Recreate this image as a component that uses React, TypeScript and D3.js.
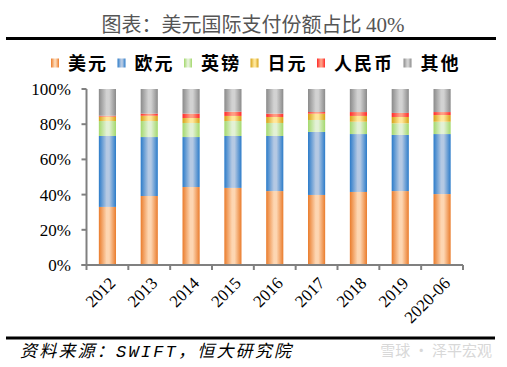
import React from 'react';
import * as d3 from 'd3';

// categories / series (in %)
const years = ['2012', '2013', '2014', '2015', '2016', '2017', '2018', '2019', '2020-06'];
const seriesNames = ['美元', '欧元', '英镑', '日元', '人民币', '其他'];
const usd = [33.0, 39.2, 44.3, 43.8, 42.0, 39.8, 41.5, 42.0, 40.3];
const eur = [40.3, 33.5, 28.4, 29.5, 31.3, 35.8, 32.9, 31.9, 34.1];
const gbp = [8.5, 9.1, 8.0, 8.5, 7.4, 6.8, 7.0, 6.6, 7.0];
const jpy = [2.5, 3.0, 2.8, 2.9, 3.4, 3.6, 3.3, 3.6, 3.8];
const cny = [0.5, 1.2, 2.5, 2.4, 1.9, 0.9, 2.2, 2.3, 1.7];
const yTicks = [0, 20, 40, 60, 80, 100];

// edge colour / centre colour of each series' gradient
const edgeColors = ['#EA7C2C', '#2B7BC9', '#A3D86C', '#D6A216', '#FF2A2A', '#8A8A8A'];
const midColors = ['#FDD6B2', '#B5C9E3', '#E3F1D6', '#FFE79A', '#FF9C82', '#D2D2D2'];

const W = 507, H = 367;
const margin = { top: 89, right: 44, bottom: 102, left: 86.5 };

export default function App() {
  const other = years.map((_, i) => 100 - usd[i] - eur[i] - gbp[i] - jpy[i] - cny[i]);
  const table = years.map((y, i) => ({
    year: y,
    '美元': usd[i], '欧元': eur[i], '英镑': gbp[i], '日元': jpy[i], '人民币': cny[i], '其他': other[i],
  }));
  const stacked = d3.stack<any>().keys(seriesNames)(table);

  const x = d3.scaleBand()
    .domain(years)
    .range([margin.left, W - margin.right])
    .paddingInner(0.59)
    .paddingOuter(0.295);
  const y = d3.scaleLinear().domain([0, 100]).range([H - margin.bottom, margin.top]);

  const step = x.step();
  const x0 = margin.left;
  const x1 = W - margin.right;
  const y0 = y(0);

  // legend layout
  let lx = 51;
  const legend = seriesNames.map((name, i) => {
    const item = { name, i, x: lx };
    lx += 17 + name.length * 20 + 9.5;
    return item;
  });

  const cjk = '"Noto Sans CJK SC", sans-serif';
  const serif = '"Liberation Serif", "Times New Roman", serif';

  return (
    <svg width={W} height={H} style={{ position: 'absolute', left: 0, top: 0, background: '#fff' }}>
      <defs>
        {seriesNames.map((_, i) => (
          <linearGradient key={i} id={'g' + i} x1="0" x2="1" y1="0" y2="0">
            <stop offset="0%" stopColor={edgeColors[i]} />
            <stop offset="45%" stopColor={midColors[i]} />
            <stop offset="60%" stopColor={midColors[i]} />
            <stop offset="100%" stopColor={edgeColors[i]} />
          </linearGradient>
        ))}
      </defs>

      {/* title */}
      <text x={253} y={32} textAnchor="middle" fontFamily={cjk} fontSize={20} fill="#555">
        图表：美元国际支付份额占比 <tspan fontFamily={serif} fontSize={21}>40%</tspan>
      </text>
      <line x1={6} x2={496} y1={38.5} y2={38.5} stroke="#000" strokeWidth={3} />

      {/* legend */}
      {legend.map(d => (
        <g key={d.name}>
          <rect x={d.x} y={58.5} width={8} height={9} fill={'url(#g' + d.i + ')'} />
          <text x={d.x + 17} y={70} fontFamily={cjk} fontWeight="bold" fontSize={18} letterSpacing={2} fill="#000">
            {d.name}
          </text>
        </g>
      ))}

      {/* bars */}
      {stacked.map((layer, i) => (
        <g key={layer.key} fill={'url(#g' + i + ')'}>
          {layer.map((d: any) => (
            <rect key={d.data.year}
              x={x(d.data.year)}
              y={y(d[1])}
              width={x.bandwidth()}
              height={y(d[0]) - y(d[1])} />
          ))}
        </g>
      ))}

      {/* y axis */}
      <line x1={x0} x2={x0} y1={y(100)} y2={y0} stroke="#808080" strokeWidth={2} />
      {yTicks.map(t => (
        <g key={t}>
          <line x1={x0 - 5} x2={x0} y1={y(t)} y2={y(t)} stroke="#808080" strokeWidth={2} />
          <text x={71} y={y(t)} dy="0.35em" textAnchor="end" fontFamily={serif} fontSize={17} fill="#000">
            {t + '%'}
          </text>
        </g>
      ))}

      {/* x axis */}
      <line x1={x0 - 5} x2={x1} y1={y0} y2={y0} stroke="#808080" strokeWidth={2} />
      {d3.range(years.length + 1).map(i => (
        <line key={i} x1={x0 + i * step} x2={x0 + i * step} y1={y0} y2={y0 + 5} stroke="#808080" strokeWidth={2} />
      ))}
      {years.map(yr => {
        const cx = (x(yr) as number) + x.bandwidth() / 2 + 5;
        return (
          <text key={yr} transform={`translate(${cx},${y0 + 15}) rotate(-45)`} textAnchor="end"
            dy="0.35em" fontFamily={serif} fontSize={17} fill="#000">
            {yr}
          </text>
        );
      })}

      {/* source */}
      <line x1={6} x2={495} y1={338} y2={338} stroke="#000" strokeWidth={3} />
      <text x={20} y={357} fontFamily={'"Liberation Mono", "Noto Sans CJK SC", monospace'} fontStyle="italic"
        fontSize={17} letterSpacing={2.2} fill="#000">
        资料来源：SWIFT，恒大研究院
      </text>
      <text x={492} y={356} textAnchor="end" fontFamily={cjk} fontSize={15} fill="#d8d8d8">
        雪球 · 泽平宏观
      </text>
    </svg>
  );
}
